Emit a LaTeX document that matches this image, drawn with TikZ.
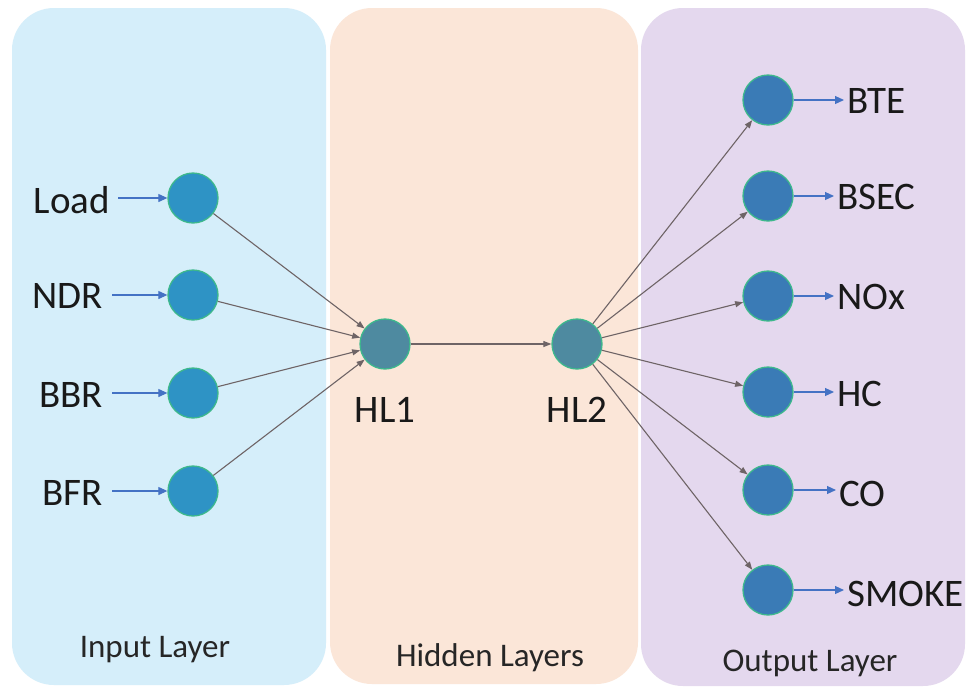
\documentclass[tikz,border=0pt]{standalone}
\usepackage{fontspec}
\setmainfont{Carlito}
\usetikzlibrary{arrows.meta}
\definecolor{inbg}{HTML}{D5EEFA}
\definecolor{hidbg}{HTML}{FBE6D8}
\definecolor{outbg}{HTML}{E4D8EE}
\definecolor{infill}{HTML}{2E93C5}
\definecolor{hidfill}{HTML}{4E8AA0}
\definecolor{outfill}{HTML}{3A7BB6}
\definecolor{ringc}{HTML}{3DB88C}
\definecolor{bluearr}{HTML}{4472C4}
\definecolor{grayarr}{HTML}{6E6466}
\tikzset{
  panel/.style={rounded corners=42pt, draw=none},
  neuron/.style={circle, minimum size=50pt, inner sep=0pt, line width=1.3pt, draw=ringc},
  lab/.style={font=\fontsize{39}{44}\selectfont, text=black!90, inner sep=0pt},
  plab/.style={font=\fontsize{33}{38}\selectfont, text=black!85, inner sep=0pt},
  inarr/.style={-{Triangle[length=9pt,width=8pt]}, draw=bluearr, line width=1.1pt},
  conn/.style={-{Triangle[length=8pt,width=6pt]}, draw=grayarr, line width=1.1pt}
}
\begin{document}
\begin{tikzpicture}[x=1pt,y=-1pt]
\useasboundingbox (0,0) rectangle (967,686);
\fill[white] (0,0) rectangle (967,686);
% panels
\fill[inbg, panel] (12,8) rectangle (326,685);
\fill[hidbg, panel] (330,8) rectangle (638,684);
\fill[outbg, panel] (641,8) rectangle (965,686);
% panel labels
\node[plab] (tin) at (155,650) {Input Layer};
\node[plab] (thid) at (490,658) {Hidden Layers};
\node[plab] (tout) at (810,663) {Output Layer};
% input neurons
\node[neuron, fill=infill] (i1) at (193,198) {};
\node[neuron, fill=infill] (i2) at (193,295) {};
\node[neuron, fill=infill] (i3) at (193,393) {};
\node[neuron, fill=infill] (i4) at (193,491) {};
% hidden
\node[neuron, fill=hidfill] (h1) at (385,344) {};
\node[neuron, fill=hidfill] (h2) at (577,344) {};
\node[lab] (th1) at (385,410) {HL1};
\node[lab] (th2) at (577,410) {HL2};
% outputs
\node[neuron, fill=outfill] (o1) at (768,100) {};
\node[neuron, fill=outfill] (o2) at (768,196) {};
\node[neuron, fill=outfill] (o3) at (768,296) {};
\node[neuron, fill=outfill] (o4) at (768,392) {};
\node[neuron, fill=outfill] (o5) at (768,490) {};
\node[neuron, fill=outfill] (o6) at (768,590) {};
% input labels
\node[lab, anchor=east] (l1) at (110,200) {Load};
\node[lab, anchor=east] (l2) at (103,296) {NDR};
\node[lab, anchor=east] (l3) at (103,395) {BBR};
\node[lab, anchor=east] (l4) at (103,493) {BFR};
\coordinate (a1) at ([xshift=8pt]l1.east |- i1);
\coordinate (a2) at ([xshift=9pt]l2.east |- i2);
\coordinate (a3) at ([xshift=9pt]l3.east |- i3);
\coordinate (a4) at ([xshift=9pt]l4.east |- i4);
\draw[inarr] (a1) -- (i1.west);
\draw[inarr] (a2) -- (i2.west);
\draw[inarr] (a3) -- (i3.west);
\draw[inarr] (a4) -- (i4.west);
% output labels
\node[lab, anchor=west] (r1) at (847,101) {BTE};
\node[lab, anchor=west] (r2) at (837,197) {BSEC};
\node[lab, anchor=west] (r3) at (837,297) {NOx};
\node[lab, anchor=west] (r4) at (837,394) {HC};
\node[lab, anchor=west] (r5) at (839,494) {CO};
\node[lab, anchor=west] (r6) at (847,594) {SMOKE};
\draw[inarr] (o1.east) -- ([xshift=-3pt]o1.east -| r1.west);
\draw[inarr] (o2.east) -- ([xshift=-3pt]o2.east -| r2.west);
\draw[inarr] (o3.east) -- ([xshift=-3pt]o3.east -| r3.west);
\draw[inarr] (o4.east) -- ([xshift=-3pt]o4.east -| r4.west);
\draw[inarr] (o5.east) -- ([xshift=-3pt]o5.east -| r5.west);
\draw[inarr] (o6.east) -- ([xshift=-3pt]o6.east -| r6.west);
% connections
\foreach \n in {i1,i2,i3,i4} \draw[conn] (\n) -- (h1);
\draw[conn] (h1) -- (h2);
\foreach \n in {o1,o2,o3,o4,o5,o6} \draw[conn] (h2) -- (\n);
\end{tikzpicture}
\end{document}
